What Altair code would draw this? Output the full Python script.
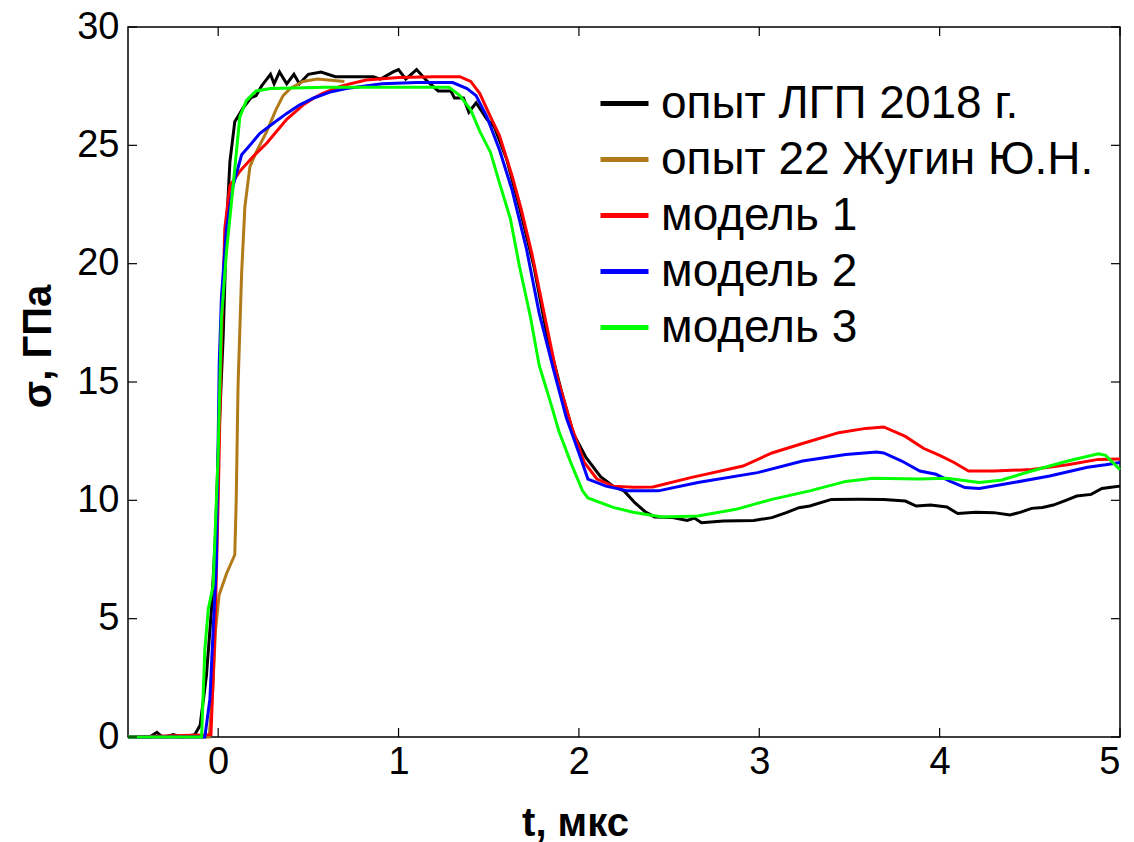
import altair as alt
import pandas as pd

# ---- data ----
names = ["опыт ЛГП 2018 г.", "опыт 22 Жугин Ю.Н.", "модель 1", "модель 2", "модель 3"]
colors = ["#000000", "#B07A18", "#FF0000", "#0000FF", "#00FF00"]

t_exp = [-0.5, -0.38, -0.34, -0.31, -0.27, -0.25, -0.2, -0.16, -0.13, -0.10,
         -0.065, -0.037, -0.015, 0.0, 0.028, 0.046, 0.065, 0.092, 0.14, 0.18,
         0.21, 0.24, 0.26, 0.29, 0.31, 0.34, 0.38, 0.42, 0.45, 0.5,
         0.57, 0.65, 0.73, 0.81, 0.86, 0.9, 0.97, 1.0, 1.04, 1.1,
         1.16, 1.22, 1.29, 1.31, 1.36, 1.39, 1.43, 1.49, 1.53, 1.6,
         1.67, 1.75, 1.82, 1.9, 1.97, 2.04, 2.12, 2.19, 2.25, 2.31,
         2.37, 2.42, 2.52, 2.6, 2.64, 2.68, 2.8, 2.97, 3.07, 3.15,
         3.22, 3.28, 3.4, 3.55, 3.69, 3.81, 3.87, 3.95, 4.04, 4.1,
         4.2, 4.3, 4.39, 4.45, 4.51, 4.57, 4.63, 4.7, 4.76, 4.84,
         4.9, 4.95, 5.0]
s_exp = [0, 0, 0.2, 0, 0.05, 0.1, 0, 0.05, 0.1, 0.5,
         2.6, 5.4, 8.5, 12, 17, 21.5, 24.3, 26.0, 26.6, 27.0,
         27.1, 27.5, 27.7, 28.0, 27.6, 28.1, 27.6, 28.0, 27.6, 28.0,
         28.1, 27.9, 27.9, 27.9, 27.9, 27.8, 28.1, 28.2, 27.8, 28.2,
         27.7, 27.3, 27.3, 27.0, 27.0, 26.4, 26.8, 26.1, 25.8, 24.4,
         22.4, 19.9, 17.1, 14.7, 12.8, 11.8, 11.0, 10.6, 10.4, 9.9,
         9.5, 9.3, 9.27, 9.15, 9.25, 9.05, 9.13, 9.15, 9.27, 9.48,
         9.69, 9.76, 10.04, 10.05, 10.04, 9.97, 9.76, 9.8, 9.72, 9.44,
         9.5, 9.48, 9.38, 9.5, 9.66, 9.7, 9.8, 10.0, 10.18, 10.25,
         10.5, 10.55, 10.6]

t_zh = [-0.5, -0.05, -0.03, -0.015, 0.005, 0.046, 0.092, 0.10, 0.11, 0.13,
        0.148, 0.176, 0.21, 0.27, 0.32, 0.36, 0.40, 0.47, 0.55, 0.7]
s_zh = [0, 0, 2, 4.5, 6.0, 6.9, 7.7, 10, 14.8, 19.6,
        22.4, 24.1, 24.7, 25.6, 26.5, 27.1, 27.4, 27.7, 27.8, 27.7]

t_m1 = [-0.5, -0.04, -0.018, 0.0, 0.018, 0.037, 0.065, 0.12, 0.19, 0.27,
        0.38, 0.47, 0.53, 0.58, 0.68, 0.82, 1.0, 1.2, 1.34, 1.4,
        1.45, 1.51, 1.56, 1.63, 1.68, 1.74, 1.81, 1.88, 1.96, 2.03,
        2.1, 2.19, 2.3, 2.41, 2.62, 2.91, 3.07, 3.24, 3.44, 3.59,
        3.69, 3.81, 3.91, 4.0, 4.08, 4.16, 4.3, 4.51, 4.71, 4.88,
        5.0]
s_m1 = [0, 0.1, 4.5, 10, 16.7, 21.5, 23.3, 23.9, 24.5, 25.1,
        26.1, 26.7, 27.0, 27.2, 27.5, 27.76, 27.87, 27.9, 27.9, 27.7,
        27.2, 26.2, 25.4, 23.7, 22.3, 20.4, 17.8, 15.2, 13.1, 11.6,
        10.9, 10.6, 10.55, 10.56, 10.96, 11.45, 12.0, 12.4, 12.86, 13.04,
        13.1, 12.7, 12.2, 11.9, 11.6, 11.24, 11.24, 11.3, 11.5, 11.73,
        11.75]

t_m2 = [-0.5, -0.074, -0.046, -0.028, -0.01, 0.006, 0.018, 0.046, 0.083, 0.13,
        0.176, 0.23, 0.3, 0.38, 0.45, 0.53, 0.62, 0.71, 0.91, 1.1,
        1.3, 1.38, 1.43, 1.49, 1.56, 1.63, 1.71, 1.78, 1.86, 1.93,
        2.0, 2.05, 2.15, 2.27, 2.44, 2.66, 2.99, 3.24, 3.48, 3.65,
        3.69, 3.79, 3.89, 3.98, 4.06, 4.14, 4.22, 4.41, 4.61, 4.82,
        4.92, 5.0]
s_m2 = [0, 0, 1.6, 4.5, 7.3, 15.8, 18.6, 21.5, 23.3, 24.6,
        25.0, 25.5, 25.9, 26.35, 26.7, 27.0, 27.25, 27.4, 27.6, 27.65,
        27.65, 27.4, 27.1, 26.2, 24.8, 23.1, 20.6, 17.9, 15.5, 13.5,
        12.0, 10.9, 10.6, 10.4, 10.4, 10.75, 11.17, 11.66, 11.94, 12.04,
        12.0, 11.66, 11.24, 11.1, 10.8, 10.54, 10.5, 10.75, 11.03, 11.4,
        11.5, 11.6]

t_m3 = [-0.5, -0.092, -0.074, -0.055, -0.028, 0.0, 0.018, 0.046, 0.083, 0.12,
        0.157, 0.21, 0.29, 0.6, 1.0, 1.28, 1.34, 1.4, 1.45, 1.51,
        1.56, 1.62, 1.67, 1.73, 1.78, 1.84, 1.89, 1.96, 2.02, 2.05,
        2.19, 2.3, 2.46, 2.66, 2.87, 3.07, 3.28, 3.48, 3.63, 3.89,
        4.04, 4.22, 4.34, 4.51, 4.71, 4.88, 4.92, 5.0]
s_m3 = [0, 0, 3.7, 5.4, 6.4, 12, 17.7, 20.5, 23.3, 26.2,
        26.9, 27.3, 27.4, 27.45, 27.45, 27.45, 27.1, 26.5, 25.6, 24.7,
        23.4, 21.9, 19.9, 17.8, 15.7, 14.2, 12.9, 11.5, 10.4, 10.1,
        9.7, 9.5, 9.3, 9.34, 9.62, 10.04, 10.4, 10.8, 10.93, 10.9,
        10.93, 10.75, 10.85, 11.24, 11.66, 11.97, 11.9, 11.3]

x_ticks = [0, 1, 2, 3, 4, 5]
y_ticks = [0, 5, 10, 15, 20, 25, 30]

series = [(t_exp, s_exp), (t_zh, s_zh), (t_m1, s_m1), (t_m2, s_m2), (t_m3, s_m3)]
rows = []
for name, (ts, ss) in zip(names, series):
    assert len(ts) == len(ss), name
    for i, (t, s) in enumerate(zip(ts, ss)):
        rows.append({"series": name, "t": t, "s": s, "i": i})
df = pd.DataFrame(rows)

W, H = 992, 710
FONT = "Liberation Sans"
TL = 9

xs = alt.Scale(domain=[-0.5, 5], nice=False, zero=False)
ys = alt.Scale(domain=[0, 30], nice=False)

color = alt.Color(
    "series:N",
    scale=alt.Scale(domain=names, range=colors),
    legend=alt.Legend(
        title=None, orient="none", legendX=470, legendY=50,
        symbolType="stroke", symbolSize=2304, symbolStrokeWidth=5,
        labelFontSize=46, labelFont=FONT, labelColor="#000000",
        labelOffset=10, rowPadding=6, padding=0, labelLimit=600,
    ),
)

layers = []
for name in names:
    layers.append(
        alt.Chart(df).transform_filter(alt.datum.series == name).mark_line(strokeWidth=3).encode(
            x=alt.X("t:Q", scale=xs, axis=alt.Axis(
                values=x_ticks, title="t, мкс", ticks=False, domain=False, grid=False,
                labelFontSize=38, labelFont=FONT, labelColor="#000000", labelPadding=6,
                titleFont=FONT, titleFontSize=40, titleFontWeight="bold", titleColor="#000000",
                titleX=447, titleY=98, titleBaseline="alphabetic", titleAnchor="start", titleAlign="center",
                format="d")),
            y=alt.Y("s:Q", scale=ys, axis=alt.Axis(
                values=y_ticks, title="σ, ГПа", ticks=False, domain=False, grid=False,
                labelFontSize=38, labelFont=FONT, labelColor="#000000", labelPadding=9,
                titleFont=FONT, titleFontSize=40, titleFontWeight="bold", titleColor="#000000",
                titleX=-78, titleY=319, titleBaseline="alphabetic", titleAlign="center", titleAngle=270,
                format="d")),
            color=color,
            order="i:Q",
        )
    )

xt = pd.DataFrame({"v": x_ticks})
yt = pd.DataFrame({"v": y_ticks})
tick_style = dict(color="#000000", strokeWidth=1.2)
tb = alt.Chart(xt).mark_rule(**tick_style).encode(x=alt.X("v:Q", scale=xs), y=alt.value(H), y2=alt.value(H - TL))
tt = alt.Chart(xt).mark_rule(**tick_style).encode(x=alt.X("v:Q", scale=xs), y=alt.value(0), y2=alt.value(TL))
tl = alt.Chart(yt).mark_rule(**tick_style).encode(y=alt.Y("v:Q", scale=ys), x=alt.value(0), x2=alt.value(TL))
tr = alt.Chart(yt).mark_rule(**tick_style).encode(y=alt.Y("v:Q", scale=ys), x=alt.value(W), x2=alt.value(W - TL))

chart = alt.layer(*layers, tb, tt, tl, tr).properties(
    width=W, height=H,
    autosize=alt.AutoSizeParams(type="none"),
    padding={"left": 128, "top": 27, "right": 14, "bottom": 105},
    background="#FFFFFF",
).configure_view(stroke="#000000", strokeWidth=1.5)

chart.save("out.html", embed_options={"renderer": "svg", "actions": False})
